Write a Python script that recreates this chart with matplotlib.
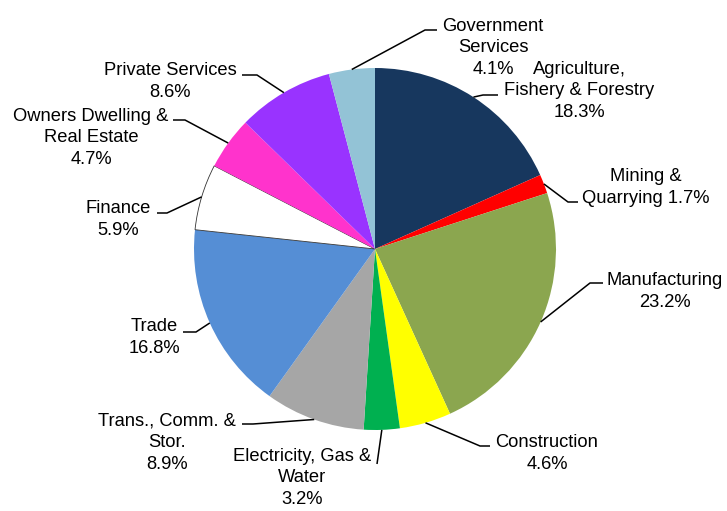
import matplotlib
matplotlib.use('Agg')
import numpy as np
import matplotlib.pyplot as plt

plt.rcParams['font.family'] = ['Liberation Sans', 'DejaVu Sans']

# sector shares (%), clockwise from 12 o'clock
sectors = ['Agriculture,\nFishery & Forestry', 'Mining &\nQuarrying', 'Manufacturing',
           'Construction', 'Electricity, Gas &\nWater', 'Trans., Comm. &\nStor.', 'Trade',
           'Finance', 'Owners Dwelling &\nReal Estate', 'Private Services',
           'Government\nServices']
shares = [18.3, 1.7, 23.2, 4.6, 3.2, 8.9, 16.8, 5.9, 4.7, 8.6, 4.1]
colors = ['#17375E', '#FF0000', '#8BA64F', '#FFFF00', '#00B050', '#A6A6A6',
          '#558ED5', '#FFFFFF', '#FF33CC', '#9933FF', '#93C3D6']

W, H = 727, 511
fig = plt.figure(figsize=(W / 100, H / 100), dpi=100)
ax = fig.add_axes([0, 0, 1, 1])

cx, cy, r = 375, H - 249, 181
wedges, _ = ax.pie(shares, colors=colors, startangle=90, counterclock=False,
                   center=(cx, cy), radius=r, wedgeprops=dict(linewidth=0))
# the white slice carries a thin outline
wedges[7].set_edgecolor('#333333')
wedges[7].set_linewidth(0.6)

ax.set_xlim(0, W)
ax.set_ylim(0, H)
ax.set_aspect('equal')
ax.axis('off')

# label layout in pixel coordinates: (text centre x, text centre y, elbow, line end)
layout = [
    (579, 89, (483, 95), (498, 95)),
    (646, 186, (568, 202), (578, 202)),
    (665, 290, (590, 283), (603, 283)),
    (547, 452, (480, 446), (490, 446)),
    (302, 476, (377, 464), (377, 464)),
    (167, 441, (253, 424), (242, 424)),
    (154, 336, (196, 332), (183, 332)),
    (118, 218, (167, 213), (157, 213)),
    (91, 136, (185, 120), (173, 120)),
    (170, 80, (257, 75), (242, 75)),
    (493, 46, (425, 30), (437, 30)),
]
pitch = 21.5

for i, (w, name, val, (tx, ty, elbow, end)) in enumerate(zip(wedges, sectors, shares, layout)):
    ang = np.deg2rad((w.theta1 + w.theta2) / 2)
    sx, sy = cx + r * np.cos(ang), cy + r * np.sin(ang)
    xs = [sx, elbow[0], end[0]]
    ys = [sy, H - elbow[1], H - end[1]]
    ax.plot(xs, ys, color='black', lw=1.1, solid_capstyle='butt')
    sep = ' ' if i == 1 else '\n'
    lines = (name + sep + '%.1f%%' % val).split('\n')
    top = ty + 1.5 - (len(lines) - 1) / 2 * pitch
    for k, line in enumerate(lines):
        ax.text(tx, H - (top + k * pitch), line, ha='center', va='center',
                fontsize=13.2, color='black')

plt.savefig('out.png', dpi=100)
